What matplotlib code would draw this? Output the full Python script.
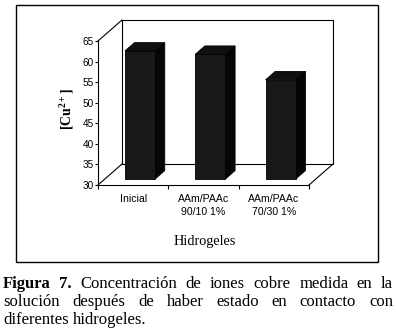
import matplotlib
matplotlib.use("Agg")
import matplotlib.pyplot as plt
from matplotlib.patches import Rectangle, Polygon

# ---- data ----
categories = ["Inicial", "AAm/PAAc\n90/10 1%", "AAm/PAAc\n70/30 1%"]
values = [61.1, 60.3, 54.1]
y_ticks = [30, 35, 40, 45, 50, 55, 60, 65]
y_min, y_max = 30, 65
x_title = "Hidrogeles"
y_title = "[Cu$^{\\mathbf{2+}}$]"
caption_lines = [
    [("Figura", "bold"), ("7.", "bold"), ("Concentración", "normal"), ("de", "normal"),
     ("iones", "normal"), ("cobre", "normal"), ("medida", "normal"), ("en", "normal"), ("la", "normal")],
    [("solución", "normal"), ("después", "normal"), ("de", "normal"), ("haber", "normal"),
     ("estado", "normal"), ("en", "normal"), ("contacto", "normal"), ("con", "normal")],
    [("diferentes", "normal"), ("hidrogeles.", "normal")],
]

plt.rcParams['mathtext.fontset'] = 'custom'
plt.rcParams['mathtext.rm'] = 'Liberation Serif'
plt.rcParams['mathtext.it'] = 'Liberation Serif:italic'
plt.rcParams['mathtext.bf'] = 'Liberation Serif:bold'

W, H = 396, 334
fig = plt.figure(figsize=(W / 100, H / 100), dpi=100)
fig.patch.set_facecolor("white")

def fx(px):
    return px / W

def fy(py):
    return 1 - py / H

# front plane axes
ax = fig.add_axes([fx(98), fy(185), fx(309) - fx(98), fy(41) - fy(185)])
ax.set_facecolor("none")
n = len(categories)
x0, x1 = -0.5, n - 0.5
ax.set_xlim(x0, x1)
ax.set_ylim(y_min, y_max)
for s in ["top", "right"]:
    ax.spines[s].set_visible(False)
for s in ["left", "bottom"]:
    ax.spines[s].set_linewidth(0.8)
    ax.spines[s].set_color("black")

ax.set_yticks(y_ticks)
ax.set_yticklabels([str(t) for t in y_ticks], fontsize=7.2, family="Liberation Sans")
ax.tick_params(axis="y", direction="out", length=2.5, width=0.8, pad=0.5)

ax.set_xticks([x0 + k for k in range(n + 1)])
ax.set_xticklabels([])
ax.set_xticks(list(range(n)), minor=True)
ax.set_xticklabels(categories, minor=True, fontsize=7.6, family="Liberation Sans",
                   linespacing=1.35)
ax.tick_params(axis="x", which="major", direction="out", length=3, width=0.8)
ax.tick_params(axis="x", which="minor", length=0, pad=6.5)

# depth offsets (data units)
DX = 24 / 70.33
DY = 21 / (144 / 35)

lw = 0.8
# back wall
ax.add_patch(Rectangle((x0 + DX, y_min + DY), x1 - x0, y_max - y_min, fill=False,
                       edgecolor="black", lw=lw, clip_on=False, zorder=1))
ax.plot([x0, x0 + DX], [y_max, y_max + DY], color="black", lw=lw, clip_on=False, zorder=1)
ax.plot([x0, x0 + DX], [y_min, y_min + DY], color="black", lw=lw, clip_on=False, zorder=1)
ax.plot([x1, x1 + DX], [y_min, y_min + DY], color="black", lw=lw, clip_on=False, zorder=1)

# bars
f0 = 0.286
fb = 0.40
bw = 0.43
for i, v in enumerate(values):
    xl = i - bw / 2 + f0 * DX
    xr = xl + bw
    yb = y_min + f0 * DY
    yt = v + f0 * DY
    ddx, ddy = fb * DX, fb * DY
    side = Polygon([(xr, yb), (xr, yt), (xr + ddx, yt + ddy), (xr + ddx, yb + ddy)],
                   closed=True, facecolor="#060606", edgecolor="black", lw=0.6,
                   clip_on=False, zorder=3)
    top = Polygon([(xl, yt), (xr, yt), (xr + ddx, yt + ddy), (xl + ddx, yt + ddy)],
                  closed=True, facecolor="#101010", edgecolor="black", lw=0.6,
                  clip_on=False, zorder=3)
    front = Rectangle((xl, yb), bw, v - y_min, facecolor="#181818", edgecolor="black",
                      lw=0.6, clip_on=False, zorder=4)
    ax.add_patch(side)
    ax.add_patch(top)
    ax.add_patch(front)

# axis titles
fig.text(fx(67), fy(109), y_title, rotation=90, ha="center", va="center",
         fontsize=10, family="Liberation Serif", fontweight="bold")
fig.text(fx(205), fy(241), x_title, ha="center", va="center",
         fontsize=10.3, family="Liberation Serif")

# outer frame
fig.add_artist(Rectangle((fx(16), fy(262)), fx(378) - fx(16), fy(5) - fy(262),
                         transform=fig.transFigure, fill=False, edgecolor="black", lw=1.0))

# caption (justified)
renderer = fig.canvas.get_renderer()
cap_fs = 12
baselines = [288.5, 306.5, 324.5]
cx0, cx1 = 3, 393
for li, (words, base) in enumerate(zip(caption_lines, baselines)):
    texts = []
    for w, wt in words:
        t = fig.text(0, fy(base), w, ha="left", va="baseline", fontsize=cap_fs,
                     family="Liberation Serif", fontweight=wt)
        texts.append(t)
    widths = [t.get_window_extent(renderer).width for t in texts]
    if li < len(caption_lines) - 1:
        gap = (cx1 - cx0 - sum(widths)) / (len(texts) - 1)
    else:
        sp = fig.text(0, 0, "a a", fontsize=cap_fs, family="Liberation Serif")
        sp2 = fig.text(0, 0, "aa", fontsize=cap_fs, family="Liberation Serif")
        gap = sp.get_window_extent(renderer).width - sp2.get_window_extent(renderer).width
        sp.remove(); sp2.remove()
    x = cx0
    for t, w in zip(texts, widths):
        t.set_x(fx(x))
        x += w + gap

fig.savefig("out.png", dpi=100)
